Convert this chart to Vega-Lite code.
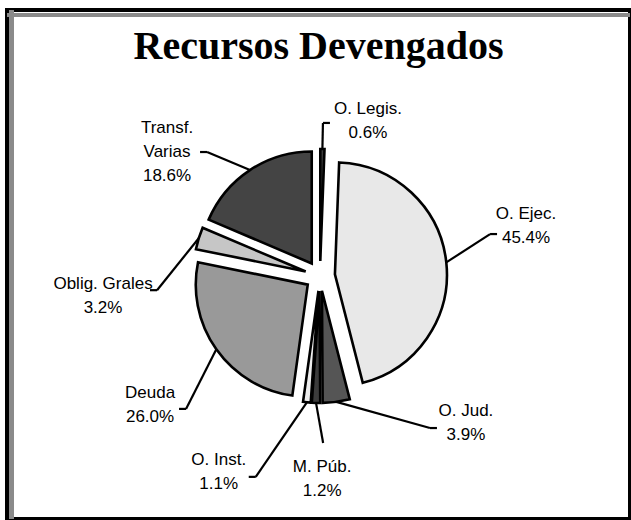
{
  "$schema": "https://vega.github.io/schema/vega-lite/v6.json",
  "width": 623,
  "height": 509,
  "autosize": {"type": "none"},
  "padding": {"left": 7, "top": 10, "right": 1, "bottom": 1},
  "background": "white",
  "title": {
    "text": "Recursos Devengados",
    "font": "Liberation Serif",
    "fontSize": 40,
    "fontWeight": "bold",
    "color": "black",
    "anchor": "middle",
    "frame": "group",
    "baseline": "alphabetic",
    "offset": 0,
    "dy": 91
  },
  "data": {
    "values": [
      {"cat": "O. Legis.", "valor": 0.6},
      {"cat": "O. Ejec.", "valor": 45.4},
      {"cat": "O. Jud.", "valor": 3.9},
      {"cat": "M. Púb.", "valor": 1.2},
      {"cat": "O. Inst.", "valor": 1.1},
      {"cat": "Deuda", "valor": 26.0},
      {"cat": "Oblig. Grales", "valor": 3.2},
      {"cat": "Transf.\nVarias", "valor": 18.6}
    ]
  },
  "transform": [
    {"window": [{"op": "sum", "field": "valor", "as": "cumEnd"}, {"op": "row_number", "as": "rn"}], "frame": [null, 0]},
    {"calculate": "datum.cumEnd - datum.valor", "as": "start"},
    {"calculate": "(datum.start + datum.valor / 2) * PI / 50", "as": "mid"},
    {"calculate": "0.134 * sin(datum.mid)", "as": "ex"},
    {"calculate": "0.134 * cos(datum.mid)", "as": "ey"},
    {"calculate": "datum.ex + sin(datum.mid)", "as": "edgeX"},
    {"calculate": "datum.ey + cos(datum.mid)", "as": "edgeY"},
    {"calculate": "datum.mid + [16.1, -7.5, -37.4, -2.4, 21.4, -1.9, -22.6, -17.5][datum.rn - 1] * PI / 180", "as": "la"},
    {"calculate": "[1.449, 1.893, 1.850, 1.813, 1.969, 1.905, 1.946, 1.758][datum.rn - 1]", "as": "lr"},
    {"calculate": "datum.lr * sin(datum.la)", "as": "lx"},
    {"calculate": "datum.lr * cos(datum.la)", "as": "lyc"},
    {"calculate": "datum.lyc + (indexof(datum.cat, '\\n') >= 0 ? 24 : 12) / 112", "as": "ly"},
    {"calculate": "datum.lx + [-38, -29, -29, 1, 30, 29, 47, 33][datum.rn - 1] / 112", "as": "tx"},
    {"calculate": "datum.lyc - [2, 8, 5, -36, 5, 4, -6, 0][datum.rn - 1] / 112", "as": "ty"},
    {"calculate": "datum.tx + [-7, -7, -7, 0, 7, 7, 7, 7][datum.rn - 1] / 112", "as": "bx"},
    {"calculate": "datum.cat + '\\n' + format(datum.valor, '.1f') + '%'", "as": "lab"}
  ],
  "layer": [
    {
      "mark": {"type": "rule", "color": "#8a8a8a", "strokeWidth": 4},
      "encoding": {"x": {"datum": -2.755, "type": "quantitative", "scale": {"domain": [-2.795, 2.768], "nice": false, "zero": false}, "axis": null}}
    },
    {
      "mark": {"type": "rule", "color": "#8a8a8a", "strokeWidth": 4},
      "encoding": {"y": {"datum": 2.33, "type": "quantitative", "scale": {"domain": [-2.170, 2.375], "nice": false, "zero": false}, "axis": null}}
    },
    {
      "mark": {"type": "arc", "radius": 112, "stroke": "black", "strokeWidth": 2.6},
      "encoding": {
        "theta": {"field": "start", "type": "quantitative", "stack": null, "scale": {"domain": [0, 100], "range": [0, 6.283185307179586]}},
        "theta2": {"field": "cumEnd"},
        "x": {"field": "ex", "type": "quantitative", "scale": {"domain": [-2.795, 2.768], "nice": false, "zero": false}, "axis": null},
        "y": {"field": "ey", "type": "quantitative", "scale": {"domain": [-2.170, 2.375], "nice": false, "zero": false}, "axis": null},
        "color": {
          "field": "cat",
          "type": "nominal",
          "legend": null,
          "scale": {
            "domain": ["O. Legis.", "O. Ejec.", "O. Jud.", "M. Púb.", "O. Inst.", "Deuda", "Oblig. Grales", "Transf.\nVarias"],
            "range": ["#3a3a3a", "#e8e8e8", "#555555", "#3c3c3c", "#eeeeee", "#999999", "#c6c6c6", "#444444"]
          }
        }
      }
    },
    {
      "mark": {"type": "rule", "color": "black", "strokeWidth": 2.2},
      "encoding": {
        "x": {"field": "edgeX", "type": "quantitative"},
        "y": {"field": "edgeY", "type": "quantitative"},
        "x2": {"field": "bx"},
        "y2": {"field": "ty"}
      }
    },
    {
      "mark": {"type": "rule", "color": "black", "strokeWidth": 2.2},
      "encoding": {
        "x": {"field": "bx", "type": "quantitative"},
        "y": {"field": "ty", "type": "quantitative"},
        "x2": {"field": "tx"},
        "y2": {"field": "ty"}
      }
    },
    {
      "mark": {"type": "text", "font": "Liberation Sans", "fontSize": 17, "lineHeight": 24, "lineBreak": "\n", "align": "center", "baseline": "middle", "color": "black"},
      "encoding": {
        "x": {"field": "lx", "type": "quantitative"},
        "y": {"field": "ly", "type": "quantitative"},
        "text": {"field": "lab"}
      }
    }
  ],
  "config": {
    "view": {"stroke": "black", "strokeWidth": 4},
    "font": "Liberation Sans"
  }
}
